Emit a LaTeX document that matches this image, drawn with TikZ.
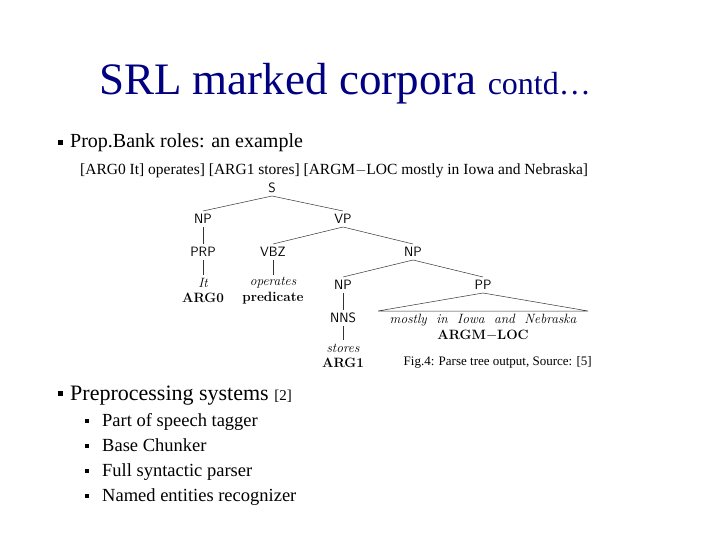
\documentclass[tikz,border=0pt]{standalone}
\usepackage{fontspec}
\setmainfont{Liberation Serif}
\newfontfamily\lm{Latin Modern Roman}
\newfontfamily\lms{Latin Modern Sans}
\begin{document}
\begin{tikzpicture}[x=1pt,y=1pt,
  cat/.style={font=\lms\fontsize{13.5}{13.5}\selectfont,inner sep=1.5pt},
  wrd/.style={font=\lm\itshape\fontsize{13.5}{13.5}\selectfont,inner sep=1pt},
  rol/.style={font=\lm\bfseries\fontsize{13.5}{13.5}\selectfont,inner sep=1pt},
  bul/.style={fill=black,minimum size=5pt,inner sep=0pt},
  sbul/.style={fill=black,minimum size=4pt,inner sep=0pt},
  txt/.style={anchor=base west,inner sep=0pt},
  edge/.style={draw=black!80,line width=0.5pt}]
\useasboundingbox (0,0) rectangle (720,-540);
\node[anchor=base,inner sep=0pt,text=blue!50!black] (title) at (345,-95)
  {\fontsize{45}{45}\selectfont SRL marked corpora \fontsize{32}{32}\selectfont contd\ldots};
\node[bul] (b1) at (60,-143) {};
\node[txt,font=\fontsize{20}{20}\selectfont] (t1) at (70,-148) {Prop.Bank roles: an example};
\node[txt,font=\fontsize{15.5}{15.5}\selectfont] (t2) at (80,-175) {[ARG0 It] operates] [ARG1 stores] [ARGM$-$LOC mostly in Iowa and Nebraska]};
% tree
\node[cat] (S) at (272,-188) {S};
\node[cat] (NP1) at (203,-219) {NP};
\node[cat] (VP) at (343,-219) {VP};
\node[cat] (PRP) at (203,-252) {PRP};
\node[cat] (VBZ) at (273,-252) {VBZ};
\node[cat] (NP2) at (413,-252) {NP};
\node[wrd] (it) at (203,-283) {It};
\node[rol] (a0) at (203,-298) {ARG0};
\node[wrd] (op) at (273,-283) {operates};
\node[rol] (pred) at (273,-298) {predicate};
\node[cat] (NP3) at (343,-285) {NP};
\node[cat] (PP) at (483,-285) {PP};
\node[cat] (NNS) at (343,-318) {NNS};
\node[wrd] (st) at (343,-348) {stores};
\node[rol] (a1) at (343,-363) {ARG1};
\node[wrd] (ml) at (483,-320) {mostly\ \ in\ \ Iowa\ \ and\ \ Nebraska};
\node[rol] (am) at (483,-335) {ARGM$-$LOC};
\coordinate (tl) at (378,-311);
\coordinate (tr) at (588,-311);
\def\dn#1{([yshift=-8pt]#1.center)}
\def\up#1{([yshift=8pt]#1.center)}
\draw[edge] \dn{S} -- \up{NP1};
\draw[edge] \dn{S} -- \up{VP};
\draw[edge] \dn{NP1} -- \up{PRP};
\draw[edge] \dn{PRP} -- \up{it};
\draw[edge] \dn{VP} -- \up{VBZ};
\draw[edge] \dn{VP} -- \up{NP2};
\draw[edge] \dn{VBZ} -- \up{op};
\draw[edge] \dn{NP2} -- \up{NP3};
\draw[edge] \dn{NP2} -- \up{PP};
\draw[edge] \dn{NP3} -- \up{NNS};
\draw[edge] \dn{NNS} -- \up{st};
\draw[edge] (tl) -- \dn{PP} -- (tr) -- cycle;
\node[anchor=base east,inner sep=0pt,font=\fontsize{13}{13}\selectfont] (cap) at (592,-365) {Fig.4: Parse tree output, Source: [5]};
\node[bul] (b2) at (60,-393) {};
\node[txt,font=\fontsize{22}{22}\selectfont] (t3) at (70,-400) {Preprocessing systems {\fontsize{15}{15}\selectfont [2]}};
\foreach \y/\s/\n in {426/Part of speech tagger/a,451/Base Chunker/b,476/Full syntactic parser/c,501/Named entities recognizer/d}{
  \node[sbul] (sb\n) at (87,-\y+5) {};
  \node[txt,font=\fontsize{18.5}{18.5}\selectfont] (st\n) at (102,-\y) {\s};
}
\end{tikzpicture}
\end{document}
